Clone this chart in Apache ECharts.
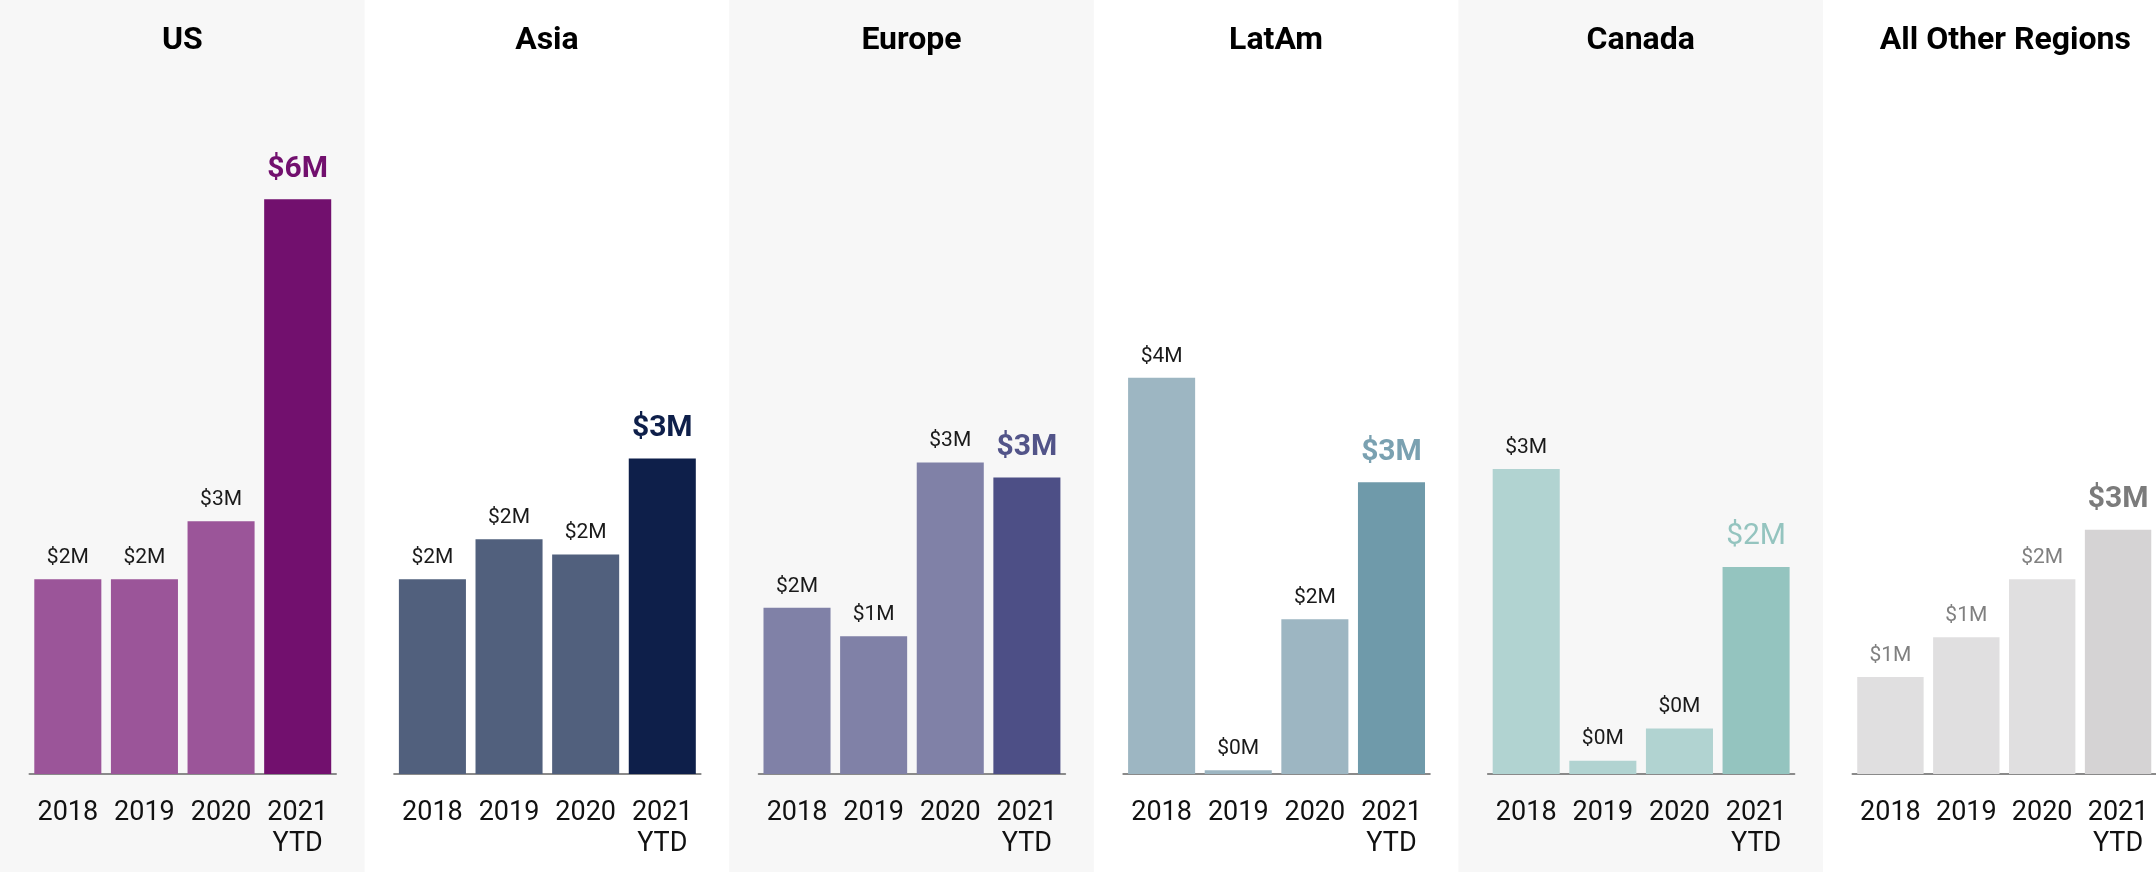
<!DOCTYPE html>
<html lang="en">
<head>
  <meta charset="UTF-8">
  <title>Revenue by region</title>
  <style>
    html, body { margin: 0; padding: 0; background: #fff; }
    #main { width: 2156px; height: 872px; }
  </style>
</head>
<body>
  <div id="main"></div>

  <script src="https://cdn.jsdelivr.net/npm/echarts@6/dist/echarts.min.js"></script>
  <script>
  // data ($M)
  const categories = ['2018', '2019', '2020', '2021\nYTD'];
  const regions = ['US', 'Asia', 'Europe', 'LatAm', 'Canada', 'All Other Regions'];
  const usValues = [2.05, 2.05, 2.66, 6.05];
  const asiaValues = [2.05, 2.47, 2.31, 3.32];
  const europeValues = [1.75, 1.45, 3.28, 3.12];
  const latamValues = [4.17, 0.04, 1.63, 3.07];
  const canadaValues = [3.21, 0.14, 0.48, 2.18];
  const otherValues = [1.02, 1.44, 2.05, 2.57];
  const regionValues = [usValues, asiaValues, europeValues, latamValues, canadaValues, otherValues];

  // colours
  const baseColors = ['#9b5599', '#51607d', '#8081a7', '#9db6c2', '#b1d3d1', '#e0dfe0'];
  const ytdColors = ['#72106e', '#0e1f4a', '#4d4f86', '#6f9aaa', '#94c4bf', '#d5d3d4'];
  const ytdLabelColors = ['#72106e', '#0e1f4a', '#525489', '#7aa1b1', '#94c4bf', '#7b7b7b'];
  const ytdLabelWeights = ['bold', 'bold', 'bold', 'bold', 'normal', 'bold'];
  const labelColors = ['#1a1a1a', '#1a1a1a', '#1a1a1a', '#1a1a1a', '#1a1a1a', '#808080'];
  const panelBg = ['#f7f7f7', '#ffffff', '#f7f7f7', '#ffffff', '#f7f7f7', '#ffffff'];

  const panelW = 364.6;
  const axisY = 774;
  const yMax = 7;
  const plotTop = 109;

  let myChart = echarts.init(document.getElementById('main'));

  let grids = [], xAxes = [], yAxes = [], series = [], graphics = [];

  regions.forEach((name, i) => {
    let x0 = i * panelW;

    // panel background + title
    graphics.push({
      type: 'rect', silent: true, z: -10,
      shape: { x: x0, y: 0, width: panelW + 1, height: 872 },
      style: { fill: panelBg[i] }
    });
    graphics.push({
      type: 'text', silent: true, z: 10,
      x: x0 + panelW / 2, y: 41,
      style: {
        text: name, fontSize: 32, fontWeight: 'bold', fontFamily: 'Roboto',
        fill: '#000', align: 'center', verticalAlign: 'middle'
      }
    });

    grids.push({ left: x0 + 29.5, width: 306.5, top: plotTop, height: axisY - plotTop });

    xAxes.push({
      type: 'category', gridIndex: i, data: categories,
      axisTick: { show: false },
      axisLine: { lineStyle: { color: '#8a8a8a', width: 2 } },
      axisLabel: { fontSize: 27, lineHeight: 31, color: '#111', margin: 24, fontFamily: 'Roboto', interval: 0 }
    });
    yAxes.push({
      type: 'value', gridIndex: i, min: 0, max: yMax, show: false,
      splitLine: { show: false }
    });

    series.push({
      type: 'bar', xAxisIndex: i, yAxisIndex: i,
      barCategoryGap: '12.5%',
      label: {
        show: true, position: 'top', distance: 11,
        fontSize: 21, fontFamily: 'Roboto', color: labelColors[i],
        formatter: p => '$' + Math.round(p.value) + 'M'
      },
      data: regionValues[i].map((v, j) => {
        if (j < 3) return { value: v, itemStyle: { color: baseColors[i] } };
        return {
          value: v,
          itemStyle: { color: ytdColors[i] },
          label: { fontSize: 30, fontWeight: ytdLabelWeights[i], color: ytdLabelColors[i], distance: 15 }
        };
      })
    });
  });

  let option = {
    animation: false,
    backgroundColor: '#ffffff',
    textStyle: { fontFamily: 'Roboto' },
    graphic: graphics,
    grid: grids,
    xAxis: xAxes,
    yAxis: yAxes,
    series: series
  };

  myChart.setOption(option);
  </script>
</body>
</html>
